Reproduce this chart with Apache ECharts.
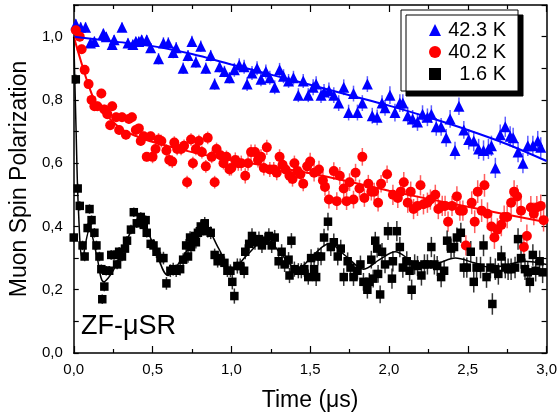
<!DOCTYPE html>
<html>
<head>
<meta charset="utf-8">
<script src="https://cdn.jsdelivr.net/npm/echarts@6/dist/echarts.min.js"></script>
<style>html,body{margin:0;padding:0;background:#fff}#c{width:560px;height:417px}</style>
</head>
<body>
<div id="c"></div>
<script>
// ---- data ----
const seriesNames = ['42.3 K', '40.2 K', '1.6 K'];
const xTicks = [0, 0.5, 1.0, 1.5, 2.0, 2.5, 3.0];
const yTicks = [0, 0.2, 0.4, 0.6, 0.8, 1.0];

const blueT = [0.013,0.044,0.075,0.106,0.131,0.188,0.206,0.244,0.256,0.306,0.344,0.375,0.394,0.413,0.431,0.463,0.488,0.538,0.569,0.600,0.631,0.650,0.694,0.725,0.750,0.775,0.806,0.838,0.869,0.894,0.925,0.956,0.988,1.019,1.050,1.081,1.100,1.131,1.163,1.188,1.219,1.244,1.275,1.306,1.331,1.363,1.394,1.425,1.456,1.488,1.519,1.538,1.569,1.588,1.619,1.650,1.681,1.713,1.744,1.775,1.800,1.831,1.863,1.894,1.925,1.956,1.975,2.006,2.038,2.069,2.088,2.119,2.150,2.181,2.213,2.244,2.269,2.300,2.331,2.363,2.388,2.419,2.444,2.475,2.506,2.538,2.569,2.600,2.631,2.650,2.675,2.706,2.738,2.769,2.788,2.819,2.850,2.881,2.913,2.944,2.963];
const blueV = [1.04,1.03,1.03,0.98,0.985,1.01,1.0,0.975,0.99,1.03,0.98,0.975,0.985,0.985,0.99,0.99,0.965,0.93,0.98,0.98,0.95,0.965,0.90,0.94,0.985,0.92,0.97,0.90,0.94,0.85,0.905,0.89,0.87,0.895,0.91,0.905,0.85,0.885,0.90,0.865,0.89,0.87,0.84,0.895,0.875,0.86,0.87,0.815,0.86,0.815,0.84,0.85,0.815,0.825,0.83,0.815,0.79,0.84,0.76,0.82,0.76,0.79,0.85,0.75,0.745,0.79,0.775,0.815,0.76,0.79,0.79,0.75,0.74,0.73,0.755,0.745,0.755,0.715,0.715,0.68,0.74,0.64,0.78,0.705,0.675,0.67,0.645,0.64,0.645,0.655,0.585,0.69,0.715,0.685,0.68,0.635,0.60,0.655,0.655,0.67,0.65];

const redT = [0.013,0.038,0.050,0.069,0.094,0.113,0.131,0.150,0.175,0.194,0.213,0.231,0.244,0.269,0.288,0.306,0.331,0.350,0.369,0.394,0.413,0.425,0.444,0.463,0.488,0.500,0.519,0.538,0.556,0.588,0.606,0.625,0.638,0.656,0.681,0.700,0.719,0.744,0.756,0.775,0.794,0.813,0.838,0.850,0.875,0.894,0.906,0.931,0.950,0.969,0.988,1.000,1.025,1.044,1.063,1.088,1.106,1.125,1.150,1.169,1.188,1.206,1.225,1.244,1.269,1.288,1.306,1.325,1.344,1.369,1.388,1.400,1.419,1.438,1.456,1.481,1.500,1.525,1.556,1.581,1.594,1.619,1.650,1.669,1.688,1.713,1.731,1.750,1.775,1.788,1.813,1.831,1.844,1.869,1.888,1.906,1.931,1.950,1.988,2.025,2.056,2.075,2.094,2.119,2.138,2.156,2.181,2.200,2.219,2.244,2.263,2.294,2.313,2.338,2.356,2.375,2.400,2.431,2.450,2.469,2.488,2.525,2.544,2.563,2.588,2.606,2.625,2.650,2.669,2.688,2.713,2.731,2.750,2.775,2.794,2.813,2.838,2.856,2.875,2.900,2.919,2.938,2.963,2.981];
const redV = [1.02,1.0,0.96,0.895,0.85,0.80,0.78,0.78,0.82,0.77,0.755,0.72,0.78,0.745,0.705,0.745,0.69,0.74,0.745,0.705,0.71,0.67,0.685,0.62,0.685,0.62,0.645,0.675,0.67,0.64,0.61,0.605,0.665,0.645,0.645,0.655,0.54,0.675,0.60,0.645,0.67,0.635,0.59,0.68,0.62,0.54,0.645,0.625,0.60,0.62,0.58,0.585,0.61,0.60,0.60,0.56,0.60,0.635,0.635,0.61,0.62,0.585,0.65,0.58,0.58,0.57,0.62,0.595,0.58,0.56,0.55,0.60,0.575,0.565,0.535,0.59,0.605,0.57,0.58,0.545,0.525,0.485,0.575,0.48,0.56,0.52,0.48,0.54,0.485,0.57,0.52,0.62,0.49,0.535,0.51,0.51,0.475,0.535,0.565,0.50,0.49,0.51,0.54,0.475,0.51,0.455,0.465,0.53,0.47,0.475,0.485,0.50,0.455,0.465,0.465,0.415,0.465,0.495,0.45,0.45,0.34,0.475,0.415,0.51,0.45,0.53,0.44,0.40,0.365,0.39,0.405,0.43,0.43,0.475,0.51,0.495,0.45,0.335,0.37,0.46,0.44,0.46,0.465,0.42];

const blackT = [0.000,0.013,0.025,0.038,0.056,0.069,0.088,0.100,0.113,0.131,0.144,0.163,0.175,0.181,0.194,0.206,0.225,0.238,0.256,0.275,0.288,0.306,0.325,0.338,0.363,0.381,0.400,0.425,0.444,0.456,0.463,0.488,0.506,0.525,0.550,0.569,0.588,0.613,0.631,0.650,0.675,0.694,0.713,0.725,0.738,0.744,0.756,0.769,0.775,0.788,0.800,0.806,0.831,0.850,0.869,0.894,0.913,0.931,0.956,0.975,0.994,1.006,1.019,1.038,1.056,1.081,1.088,1.113,1.131,1.150,1.175,1.194,1.213,1.238,1.256,1.275,1.300,1.319,1.338,1.363,1.369,1.381,1.400,1.425,1.444,1.463,1.488,1.506,1.525,1.538,1.550,1.569,1.588,1.613,1.631,1.650,1.675,1.694,1.713,1.738,1.756,1.775,1.800,1.819,1.838,1.863,1.875,1.888,1.900,1.913,1.925,1.931,1.944,1.956,1.975,1.994,2.019,2.025,2.050,2.069,2.088,2.113,2.131,2.144,2.163,2.181,2.206,2.225,2.244,2.269,2.288,2.306,2.331,2.350,2.369,2.394,2.413,2.431,2.456,2.475,2.494,2.519,2.538,2.556,2.581,2.600,2.619,2.644,2.656,2.675,2.694,2.713,2.738,2.756,2.775,2.800,2.819,2.838,2.863,2.881,2.894,2.913,2.931,2.956,2.975];
const blackV = [0.365,0.865,0.52,0.465,0.34,0.305,0.395,0.455,0.42,0.38,0.34,0.305,0.265,0.17,0.21,0.26,0.26,0.31,0.31,0.28,0.32,0.305,0.33,0.355,0.39,0.445,0.41,0.43,0.405,0.42,0.38,0.345,0.34,0.32,0.30,0.30,0.22,0.26,0.265,0.26,0.265,0.295,0.34,0.305,0.365,0.335,0.36,0.37,0.35,0.38,0.385,0.40,0.41,0.385,0.38,0.31,0.29,0.30,0.285,0.26,0.26,0.225,0.18,0.275,0.275,0.26,0.32,0.345,0.37,0.35,0.36,0.34,0.355,0.37,0.34,0.365,0.29,0.32,0.28,0.295,0.245,0.355,0.265,0.26,0.26,0.265,0.24,0.30,0.265,0.24,0.305,0.305,0.365,0.415,0.335,0.35,0.305,0.33,0.24,0.29,0.27,0.24,0.26,0.28,0.225,0.20,0.225,0.295,0.235,0.355,0.33,0.25,0.185,0.32,0.28,0.385,0.235,0.29,0.385,0.335,0.27,0.29,0.26,0.20,0.28,0.275,0.245,0.28,0.28,0.335,0.28,0.275,0.24,0.26,0.355,0.33,0.335,0.365,0.38,0.27,0.27,0.32,0.225,0.27,0.27,0.34,0.24,0.27,0.155,0.265,0.25,0.305,0.27,0.265,0.265,0.27,0.36,0.30,0.265,0.255,0.225,0.31,0.26,0.29,0.255];

// error bar half-lengths, by time bracket starting at errT
const errT = [0, 0.5, 1.0, 1.5, 2.0, 2.5];
const errBlue = [0.015, 0.018, 0.022, 0.025, 0.028, 0.032];
const errRed = [0.015, 0.02, 0.024, 0.028, 0.032, 0.036];
const errBlack = [0.015, 0.02, 0.024, 0.028, 0.032, 0.034];

// fit curves
const fitBlueT = [0, 0.25, 0.5, 0.75, 1.0, 1.25, 1.5, 1.75, 2.0, 2.25, 2.5, 2.75, 3.0];
const fitBlueV = [1.0, 0.985, 0.97, 0.945, 0.912, 0.88, 0.848, 0.815, 0.782, 0.745, 0.705, 0.66, 0.607];
const fitRedT = [0, 0.044, 0.088, 0.15, 0.23, 0.31, 0.4, 0.48, 0.75, 1.0, 1.5, 2.0, 2.5, 3.0];
const fitRedV = [1.0, 0.925, 0.855, 0.78, 0.74, 0.705, 0.685, 0.67, 0.635, 0.61, 0.568, 0.513, 0.462, 0.413];
const fitBlackT = [0, 0.015, 0.03, 0.055, 0.1, 0.145, 0.19, 0.25, 0.32, 0.42, 0.5, 0.6, 0.7, 0.83, 0.92, 1.0, 1.1, 1.22, 1.32, 1.42, 1.52, 1.62, 1.73, 1.84, 1.94, 2.04, 2.13, 2.21, 2.32, 2.42, 2.54, 2.65, 2.76, 2.86, 3.0];
const fitBlackV = [1.0, 0.7, 0.45, 0.30, 0.39, 0.31, 0.225, 0.26, 0.34, 0.42, 0.35, 0.245, 0.31, 0.40, 0.33, 0.26, 0.31, 0.36, 0.31, 0.265, 0.31, 0.345, 0.305, 0.265, 0.295, 0.32, 0.295, 0.27, 0.285, 0.30, 0.285, 0.27, 0.28, 0.29, 0.28];

// ---- build ----
const colors = ['#0000ff', '#ff0000', '#000000'];
const barColors = ['rgba(40,40,255,0.75)', 'rgba(255,40,40,0.75)', 'rgba(0,0,0,0.8)'];
function errAt(t, arr) { let e = arr[0]; for (let i = 0; i < errT.length; i++) if (t >= errT[i]) e = arr[i]; return e; }
function zip(T, V, E) { const n = Math.min(T.length, V.length); const out = []; for (let i = 0; i < n; i++) out.push(E ? [T[i], V[i], errAt(T[i], E)] : [T[i], V[i]]); return out; }

const sets = [
  { T: blueT, V: blueV, E: errBlue, FT: fitBlueT, FV: fitBlueV, symbol: 'triangle', size: 11 },
  { T: redT, V: redV, E: errRed, FT: fitRedT, FV: fitRedV, symbol: 'circle', size: 10 },
  { T: blackT, V: blackV, E: errBlack, FT: fitBlackT, FV: fitBlackV, symbol: 'rect', size: 8.5 }
];

const series = [];
sets.forEach((s, i) => {
  series.push({
    name: seriesNames[i] + ' err', type: 'custom', clip: true, z: 2,
    data: zip(s.T, s.V, s.E), encode: { x: 0, y: 1 }, silent: true,
    renderItem: function (params, api) {
      const x = api.value(0), y = api.value(1), e = api.value(2);
      const p1 = api.coord([x, y - e]), p2 = api.coord([x, y + e]);
      return { type: 'line', shape: { x1: p1[0], y1: p1[1], x2: p2[0], y2: p2[1] }, style: { stroke: barColors[i], lineWidth: 1.5 } };
    }
  });
  series.push({
    name: seriesNames[i], type: 'scatter', z: 3,
    symbol: s.symbol, symbolSize: s.size,
    itemStyle: { color: colors[i], opacity: 1 },
    data: zip(s.T, s.V)
  });
  series.push({
    name: seriesNames[i] + ' fit', type: 'line', z: 4, smooth: 0.35, showSymbol: false, silent: true,
    lineStyle: { color: colors[i], width: i === 2 ? 1.5 : 2 }, itemStyle: { color: colors[i] },
    data: zip(s.FT, s.FV)
  });
});

const fmt = (v) => xTicks.some(t => Math.abs(t - v) < 1e-6) ? v.toFixed(1).replace('.', ',') : '';
const font = 'Liberation Sans, Arial, sans-serif';
const axisLine = { show: true, onZero: false, lineStyle: { color: '#000', width: 1.5 } };

const chart = echarts.init(document.getElementById('c'), null, { renderer: 'canvas' });
chart.setOption({
  animation: false,
  textStyle: { fontFamily: font, color: '#000' },
  grid: { left: 69, right: 12, top: 5, bottom: 63 },
  title: { text: 'ZF-μSR', left: 81, top: 313, padding: 0, textStyle: { fontSize: 27, fontWeight: 'normal', fontFamily: font, color: '#000' } },
  legend: {
    orient: 'vertical', left: 401, top: 10,
    padding: [10, 12, 7, 28], itemGap: 2, itemWidth: 12, itemHeight: 12, itemTextGap: 21,
    backgroundColor: '#fff', borderColor: '#000', borderWidth: 1, borderRadius: 0,
    shadowColor: '#000', shadowOffsetX: 5, shadowOffsetY: 5, shadowBlur: 0,
    data: seriesNames,
    formatter: (n) => '{a|' + n + '}',
    textStyle: { fontSize: 20, color: '#000', fontFamily: font, rich: { a: { width: 60, align: 'right', fontSize: 20, lineHeight: 22, fontFamily: font } } }
  },
  xAxis: [
    { type: 'value', min: 0, max: 3, interval: 0.5, position: 'bottom', axisLine: axisLine,
      axisTick: { inside: true, length: 7, lineStyle: { color: '#000', width: 1.2 } },
      minorTick: { show: true, splitNumber: 2, length: 4, lineStyle: { color: '#000', width: 1.2 } },
      splitLine: { show: false },
      axisLabel: { formatter: fmt, fontSize: 15, color: '#000', margin: 9, fontFamily: font },
      name: 'Time (μs)', nameLocation: 'middle', nameGap: 36,
      nameTextStyle: { fontSize: 23, color: '#000', fontFamily: font } },
    { type: 'value', min: 0, max: 3, interval: 0.5, position: 'top', axisLine: axisLine,
      axisTick: { inside: true, length: 7, lineStyle: { color: '#000', width: 1.2 } },
      minorTick: { show: true, splitNumber: 2, length: 4, lineStyle: { color: '#000', width: 1.2 } },
      splitLine: { show: false }, axisLabel: { show: false } }
  ],
  yAxis: [
    { type: 'value', min: 0, max: 1.1, interval: 0.1, position: 'left', axisLine: axisLine,
      axisTick: { inside: true, length: 5, lineStyle: { color: '#000', width: 1.2 } },
      splitLine: { show: false },
      axisLabel: { formatter: (v) => yTicks.some(t => Math.abs(t - v) < 1e-6) ? v.toFixed(1).replace('.', ',') : '', fontSize: 15, color: '#000', margin: 11, fontFamily: font },
      name: 'Muon Spin Polarization', nameLocation: 'middle', nameGap: 38,
      nameTextStyle: { fontSize: 23, color: '#000', fontFamily: font } },
    { type: 'value', min: 0, max: 1.1, interval: 0.1, position: 'right', axisLine: axisLine,
      axisTick: { inside: true, length: 5, lineStyle: { color: '#000', width: 1.2 } },
      splitLine: { show: false }, axisLabel: { show: false } }
  ],
  series: series
});
</script>
</body>
</html>
